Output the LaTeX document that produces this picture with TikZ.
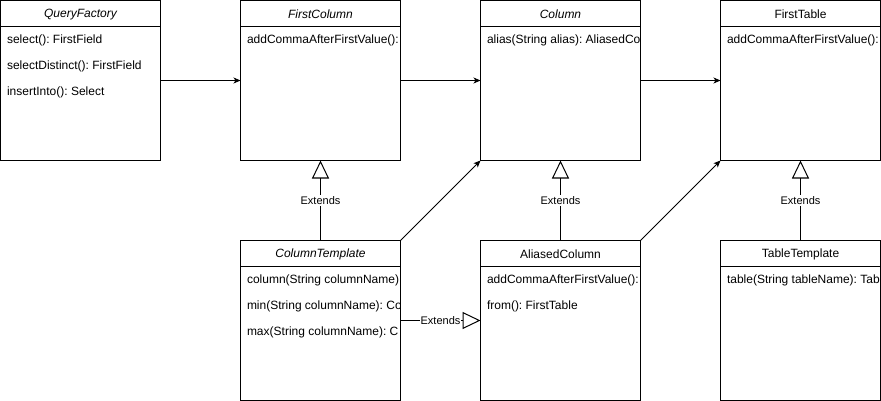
\documentclass[tikz,border=0pt]{standalone}
\usepackage{fontspec}
\setmainfont{Liberation Sans}
\usetikzlibrary{arrows,arrows.meta}
\frenchspacing
\newcommand{\umlclass}[4]{%
	\node[classbox] (#1) at (#2) {};
	\draw ([yshift=-26pt]#1.north west) -- ([yshift=-26pt]#1.north east);
	\node[classtitle] at ([yshift=-14pt]#1.north) {#3};
	\begin{scope}
		\clip (#1.north west) rectangle (#1.south east);
		\foreach \m [count=\i] in {#4}
			\node[classitem] at ([shift={(6,14+26*\i)}]#1.north west) {\m};
	\end{scope}
}

\begin{document}
\begin{tikzpicture}[x=1pt, y=-1pt, line width=1pt,
		classbox/.style={draw, minimum width=160pt, minimum height=160pt, inner sep=0pt, outer sep=0pt},
		classtitle/.style={font=\fontsize{12}{14}\selectfont},
		classitem/.style={anchor=west, inner sep=0pt, font=\fontsize{12}{14}\selectfont},
		assoc/.style={-{Stealth[length=7pt,width=6pt,inset=2pt]}},
		extends/.style={-{Triangle[open,length=18pt,width=17pt]}},
		lbl/.style={fill=white, inner sep=1pt, font=\fontsize{11}{13}\selectfont}]
	\fill[white] (0,0) rectangle (881,401);
	\useasboundingbox (0,0) rectangle (881,401);
	% top row
	\umlclass{qf}{80.5,80.5}{\itshape QueryFactory}{select(): FirstField, selectDistinct(): FirstField, insertInto(): Select}
	\umlclass{fc}{320.5,80.5}{\itshape FirstColumn}{addCommaAfterFirstValue():}
	\umlclass{col}{560.5,80.5}{\itshape Column}{alias(String alias): AliasedCo}
	\umlclass{ft}{800.5,80.5}{FirstTable}{addCommaAfterFirstValue():}
	% bottom row
	\umlclass{ct}{320.5,320.5}{\itshape ColumnTemplate}{column(String columnName), min(String columnName): Co, max(String columnName): C}
	\umlclass{ac}{560.5,320.5}{AliasedColumn}{addCommaAfterFirstValue():, from(): FirstTable}
	\umlclass{tt}{800.5,320.5}{TableTemplate}{table(String tableName): Tab}
	\path[assoc]
		(qf) edge (fc)
		(fc) edge (col)
		(col) edge (ft)
		(ct.north east) edge (col.south west)
		(ac.north east) edge (ft.south west);
	\path[extends]
		(ct) edge node[lbl]{Extends} (fc)
		(ac) edge node[lbl]{Extends} (col)
		(tt) edge node[lbl]{Extends} (ft)
		(ct) edge node[lbl]{Extends} (ac);
\end{tikzpicture}
\end{document}
